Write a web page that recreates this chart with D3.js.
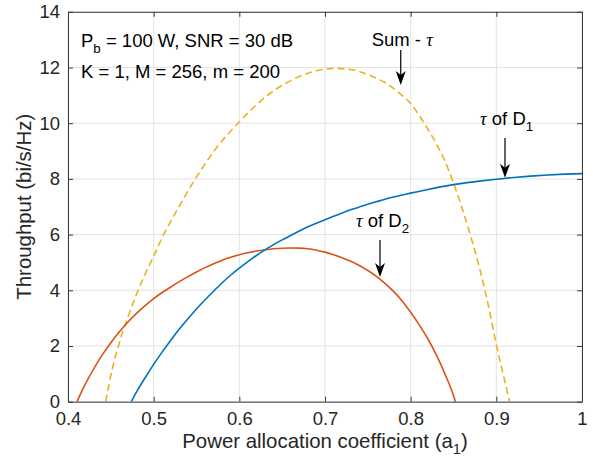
<!DOCTYPE html>
<html>
<head>
<meta charset="utf-8">
<script src="https://cdn.jsdelivr.net/npm/d3@7"></script>
<style>
  html, body { margin: 0; padding: 0; background: #ffffff; }
  svg { display: block; font-family: "Liberation Sans", Arial, Helvetica, sans-serif; }
</style>
</head>
<body>
<div id="chart"></div>
<script>
// ---------- data ----------
const xTicks = [0.4, 0.5, 0.6, 0.7, 0.8, 0.9, 1];
const xTickLabels = ["0.4", "0.5", "0.6", "0.7", "0.8", "0.9", "1"];
const yTicks = [0, 2, 4, 6, 8, 10, 12, 14];
const yTickLabels = ["0", "2", "4", "6", "8", "10", "12", "14"];

// tau of D1 (blue)
const a1D1 = [0.4739, 0.48, 0.49, 0.50, 0.51, 0.52, 0.53, 0.54, 0.55, 0.56, 0.57, 0.58, 0.59, 0.60,
              0.61, 0.62, 0.63, 0.64, 0.65, 0.66, 0.67, 0.68, 0.69, 0.70, 0.71, 0.72, 0.73, 0.74,
              0.75, 0.76, 0.77, 0.78, 0.79, 0.80, 0.82, 0.84, 0.86, 0.88, 0.90, 0.92, 0.94, 0.96, 0.98, 1.00];
const tauD1 = [0, 0.35, 0.86, 1.34, 1.79, 2.21, 2.61, 2.98, 3.33, 3.66, 3.97, 4.27, 4.55, 4.80,
               5.03, 5.25, 5.45, 5.64, 5.81, 5.97, 6.13, 6.28, 6.41, 6.53, 6.66, 6.78, 6.89, 6.99,
               7.09, 7.18, 7.27, 7.35, 7.42, 7.49, 7.62, 7.74, 7.84, 7.92, 7.99, 8.05, 8.10, 8.14, 8.17, 8.19];

// tau of D2 (red)
const a1D2 = [0.4105, 0.42, 0.43, 0.44, 0.45, 0.46, 0.47, 0.48, 0.49, 0.50, 0.51, 0.52, 0.53, 0.54,
              0.55, 0.56, 0.57, 0.58, 0.59, 0.60, 0.61, 0.62, 0.63, 0.64, 0.65, 0.66, 0.67, 0.68,
              0.69, 0.70, 0.71, 0.72, 0.73, 0.74, 0.75, 0.76, 0.77, 0.78, 0.79, 0.80, 0.81, 0.82,
              0.83, 0.84, 0.85, 0.8522];
const tauD2 = [0, 0.62, 1.18, 1.68, 2.12, 2.51, 2.86, 3.17, 3.45, 3.70, 3.92, 4.12, 4.31, 4.49,
               4.66, 4.815, 4.955, 5.08, 5.19, 5.28, 5.35, 5.41, 5.455, 5.49, 5.51, 5.52, 5.515, 5.49,
               5.44, 5.37, 5.28, 5.17, 5.04, 4.89, 4.71, 4.50, 4.25, 3.96, 3.62, 3.21, 2.76, 2.26,
               1.68, 1.00, 0.22, 0];

// Sum - tau (yellow, dashed)
const a1Sum = [0.444, 0.45, 0.46, 0.47, 0.48, 0.49, 0.50, 0.51, 0.52, 0.53, 0.54, 0.55, 0.56, 0.57,
               0.58, 0.59, 0.60, 0.61, 0.62, 0.63, 0.64, 0.65, 0.66, 0.67, 0.68, 0.69, 0.70, 0.71,
               0.72, 0.73, 0.74, 0.75, 0.76, 0.77, 0.78, 0.79, 0.80, 0.81, 0.82, 0.83, 0.84, 0.85,
               0.86, 0.87, 0.88, 0.89, 0.90, 0.91, 0.9155];
const tauSum = [0, 0.95, 2.12, 3.05, 3.86, 4.58, 5.22, 5.90, 6.48, 7.03, 7.56, 8.07, 8.54, 8.98,
                9.37, 9.72, 10.05, 10.37, 10.66, 10.93, 11.16, 11.36, 11.53, 11.68, 11.79, 11.88, 11.94, 11.97,
                11.96, 11.93, 11.86, 11.75, 11.62, 11.46, 11.25, 11.00, 10.71, 10.28, 9.79, 9.26, 8.64, 7.85,
                6.95, 5.95, 4.85, 3.55, 2.05, 0.72, 0];

// annotations (in data units)
const infoLines = ["P_b = 100 W, SNR = 30 dB", "K = 1, M = 256, m = 200"];
const infoPos = [[0.4152, 12.73], [0.4152, 11.61]];
const arrows = [
  { label: "Sum - ", sub: "", tauFirst: false, textA: 0.7545, textV: 12.78, a: 0.7884, from: 12.63, to: 11.37 },
  { label: " of D", sub: "1", tauFirst: true, textA: 0.881, textV: 9.94, a: 0.9101, from: 9.47, to: 8.04 },
  { label: " of D", sub: "2", tauFirst: true, textA: 0.7362, textV: 6.28, a: 0.7642, from: 5.81, to: 4.48 }
];

// ---------- layout ----------
const W = 593, H = 466;
const margin = { left: 68, right: 11, top: 11.8, bottom: 64.3 };
const x = d3.scaleLinear().domain([0.4, 1]).range([margin.left, W - margin.right]);
const y = d3.scaleLinear().domain([0, 14]).range([H - margin.bottom, margin.top]);

const svg = d3.select("#chart").append("svg").attr("width", W).attr("height", H);

const textColor = "#262626";
const tickFont = 18.5;
const labelFont = 20.4;

// grid
const grid = svg.append("g").attr("class", "grid");
grid.selectAll("line.gx").data(xTicks).join("line")
  .attr("x1", d => x(d)).attr("x2", d => x(d))
  .attr("y1", y(0)).attr("y2", y(14))
  .attr("stroke", "#e3e3e3").attr("stroke-width", 1);
grid.selectAll("line.gy").data(yTicks).join("line")
  .attr("x1", x(0.4)).attr("x2", x(1))
  .attr("y1", d => y(d)).attr("y2", d => y(d))
  .attr("stroke", "#e3e3e3").attr("stroke-width", 1);

// curves
const clip = svg.append("clipPath").attr("id", "plotclip").append("rect")
  .attr("x", x(0.4)).attr("y", y(14)).attr("width", x(1) - x(0.4)).attr("height", y(0) - y(14));
const plot = svg.append("g").attr("clip-path", "url(#plotclip)");
const line = d3.line().x(d => x(d[0])).y(d => y(d[1])).curve(d3.curveMonotoneX);

plot.append("path").datum(d3.zip(a1Sum, tauSum))
  .attr("d", line).attr("fill", "none").attr("stroke", "#EDB120")
  .attr("stroke-width", 1.6).attr("stroke-dasharray", "7,4");
plot.append("path").datum(d3.zip(a1D2, tauD2))
  .attr("d", line).attr("fill", "none").attr("stroke", "#D95319").attr("stroke-width", 1.6);
plot.append("path").datum(d3.zip(a1D1, tauD1))
  .attr("d", line).attr("fill", "none").attr("stroke", "#0072BD").attr("stroke-width", 1.6);

// axes
const axisColor = "#3a3a3a";
const xAxisB = d3.axisBottom(x).tickValues(xTicks).tickFormat((d, i) => xTickLabels[i]).tickSizeInner(-5).tickSizeOuter(0).tickPadding(10);
const xAxisT = d3.axisTop(x).tickValues(xTicks).tickFormat("").tickSizeInner(-5).tickSizeOuter(0);
const yAxisL = d3.axisLeft(y).tickValues(yTicks).tickFormat((d, i) => yTickLabels[i]).tickSizeInner(-5).tickSizeOuter(0).tickPadding(8);
const yAxisR = d3.axisRight(y).tickValues(yTicks).tickFormat("").tickSizeInner(-5).tickSizeOuter(0);

function styleAxis(g) {
  g.select(".domain").attr("stroke", axisColor).attr("stroke-width", 1);
  g.selectAll(".tick line").attr("stroke", axisColor).attr("stroke-width", 1);
  g.selectAll(".tick text").attr("fill", textColor).attr("font-size", tickFont)
    .attr("font-family", "'Liberation Sans', Arial, sans-serif");
}
svg.append("g").attr("transform", `translate(0,${y(0)})`).call(xAxisB).call(styleAxis);
svg.append("g").attr("transform", `translate(0,${y(14)})`).call(xAxisT).call(styleAxis);
svg.append("g").attr("transform", `translate(${x(0.4)},0)`).call(yAxisL).call(styleAxis);
svg.append("g").attr("transform", `translate(${x(1)},0)`).call(yAxisR).call(styleAxis);

// axis labels
const xl = svg.append("text")
  .attr("x", (x(0.4) + x(1)) / 2).attr("y", 448)
  .attr("text-anchor", "middle").attr("font-size", labelFont).attr("fill", textColor);
xl.append("tspan").text("Power allocation coefficient (a");
xl.append("tspan").attr("dy", 6).attr("font-size", labelFont * 0.72).text("1");
xl.append("tspan").attr("dy", -6).text(")");

svg.append("text")
  .attr("transform", `translate(31,${(y(0) + y(14)) / 2}) rotate(-90)`)
  .attr("text-anchor", "middle").attr("font-size", labelFont).attr("fill", textColor)
  .text("Throughput (bi/s/Hz)");

// info text
infoLines.forEach((t, i) => {
  const tx = svg.append("text").attr("x", x(infoPos[i][0])).attr("y", y(infoPos[i][1]))
    .attr("font-size", tickFont).attr("fill", "#000");
  if (t.startsWith("P_b")) {
    tx.append("tspan").text("P");
    tx.append("tspan").attr("dy", 6).attr("font-size", tickFont * 0.72).text("b");
    tx.append("tspan").attr("dy", -6).text(t.slice(3));
  } else {
    tx.text(t);
  }
});

// arrows and their labels
arrows.forEach(ar => {
  const t = svg.append("text").attr("x", x(ar.textA)).attr("y", y(ar.textV))
    .attr("font-size", tickFont).attr("fill", "#000");
  const tau = () => t.append("tspan").attr("font-family", "'Liberation Serif', 'DejaVu Serif', serif")
    .attr("font-style", "italic").text("τ");
  if (ar.tauFirst) {
    tau();
    t.append("tspan").text(ar.label);
    t.append("tspan").attr("dy", 6).attr("font-size", tickFont * 0.72).text(ar.sub);
  } else {
    t.append("tspan").text(ar.label);
    tau();
  }
  const ax = x(ar.a), y1 = y(ar.from), y2 = y(ar.to);
  svg.append("line").attr("x1", ax).attr("x2", ax).attr("y1", y1).attr("y2", y2 - 6)
    .attr("stroke", "#000").attr("stroke-width", 1.2);
  svg.append("path")
    .attr("d", `M${ax},${y2} L${ax - 5},${y2 - 14} L${ax},${y2 - 10} L${ax + 5},${y2 - 14} Z`)
    .attr("fill", "#000");
});
</script>
</body>
</html>
